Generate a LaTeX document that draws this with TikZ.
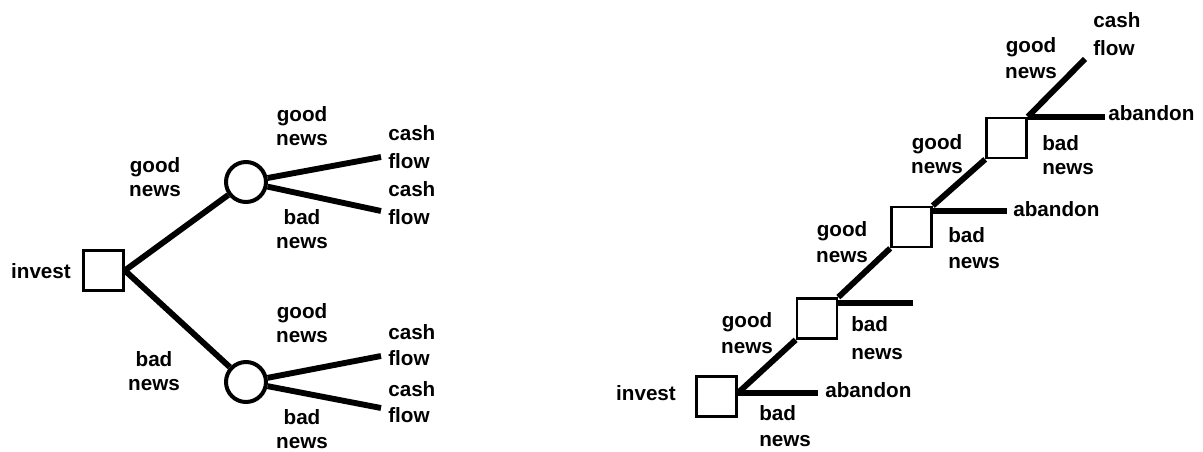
\documentclass[tikz,border=0pt]{standalone}
\usepackage{fontspec}
\setmainfont{Liberation Sans}
\usetikzlibrary{calc}

\begin{document}
\begin{tikzpicture}[x=0.75pt,y=-0.75pt,
    lbl/.style={font={\bfseries\fontsize{15.5}{18}\selectfont}, align=center, inner sep=0pt},
    lbll/.style={lbl, align=left, anchor=west},
    decision/.style={draw, line width=2pt, minimum size=30pt, inner sep=0pt},
    chance/.style={draw, circle, line width=3pt, minimum size=30pt, inner sep=0pt},
    branch/.style={line width=4.4pt}]

    \useasboundingbox (0,0) rectangle (1203,452);

    % left tree
    \node[decision] (inv) at (103.5,270.5) {};
    \node[lbl] (invlbl) at (41,271) {invest};
    \node[chance] (up) at (246,182) {};
    \node[chance] (down) at (246,382) {};
    \coordinate (cf1) at (381,157);
    \coordinate (cf2) at (381,211);
    \coordinate (cf3) at (381,356);
    \coordinate (cf4) at (381,408);

    \draw[branch] (inv.east) -- (up);
    \draw[branch] (inv.east) -- (down);
    \draw[branch] (up) -- (cf1);
    \draw[branch] (up) -- (cf2);
    \draw[branch] (down) -- (cf3);
    \draw[branch] (down) -- (cf4);

    \node[lbl] (g1) at (155,177) {good\\news};
    \node[lbl] (b1) at (154,371) {bad\\news};
    \node[lbl] (g2) at (302,126) {good\\news};
    \node[lbl] (b2) at (302,229) {bad\\news};
    \node[lbl] (g3) at (302,323) {good\\news};
    \node[lbl] (b3) at (302,429) {bad\\news};
    \node[lbll, font={\bfseries\fontsize{15.5}{21}\selectfont}] (c1) at (388,147) {cash\\flow};
    \node[lbll, font={\bfseries\fontsize{15.5}{21}\selectfont}] (c2) at (388,203) {cash\\flow};
    \node[lbll, font={\bfseries\fontsize{15.5}{19}\selectfont}] (c3) at (388,345) {cash\\flow};
    \node[lbll, font={\bfseries\fontsize{15.5}{19}\selectfont}] (c4) at (388,402) {cash\\flow};

    % right tree
    \node[decision] (sq1) at (716.5,396.5) {};
    \node[decision] (sq2) at (817,318.5) {};
    \node[decision] (sq3) at (911.5,227) {};
    \node[decision] (sq4) at (1006.5,138) {};
    \coordinate (a1) at (818,393);
    \coordinate (a2) at (913,303);
    \coordinate (a3) at (1007,211);
    \coordinate (a4) at (1105,117);
    \coordinate (cf) at (1085,59);

    \draw[branch] (sq1.east |- a1) -- (a1);
    \draw[branch] (sq1.east |- a1) -- (sq2.south west);
    \draw[branch] (sq2.east |- a2) -- (a2);
    \draw[branch] (sq2.north east) -- (sq3.south west);
    \draw[branch] (sq3.east |- a3) -- (a3);
    \draw[branch] (sq3.north east) -- (sq4.south west);
    \draw[branch] (sq4.east |- a4) -- (a4);
    \draw[branch] (sq4.north east) -- (cf);

    \node[lbl] (invlbl2) at (646,393) {invest};
    \node[lbll] (ab1) at (825,390) {abandon};
    \node[lbll, font={\bfseries\fontsize{15.5}{20}\selectfont}] (rb1) at (759,426) {bad\\news};
    \node[lbl, font={\bfseries\fontsize{15.5}{20}\selectfont}] (rg1) at (747,333) {good\\news};
    \node[lbll, font={\bfseries\fontsize{15.5}{21}\selectfont}] (rb2) at (851,338) {bad\\news};
    \node[lbl, font={\bfseries\fontsize{15.5}{20}\selectfont}] (rg2) at (842,242) {good\\news};
    \node[lbll] (ab3) at (1013,209) {abandon};
    \node[lbll, font={\bfseries\fontsize{15.5}{20}\selectfont}] (rb3) at (948,248) {bad\\news};
    \node[lbl] (rg3) at (937,154) {good\\news};
    \node[lbll] (rb4) at (1042,155) {bad\\news};
    \node[lbll] (ab4) at (1108,113) {abandon};
    \node[lbl, font={\bfseries\fontsize{15.5}{20}\selectfont}] (rg4) at (1031,58) {good\\news};
    \node[lbll, font={\bfseries\fontsize{15.5}{21}\selectfont}] (cflbl) at (1093,34) {cash\\flow};
\end{tikzpicture}
\end{document}
